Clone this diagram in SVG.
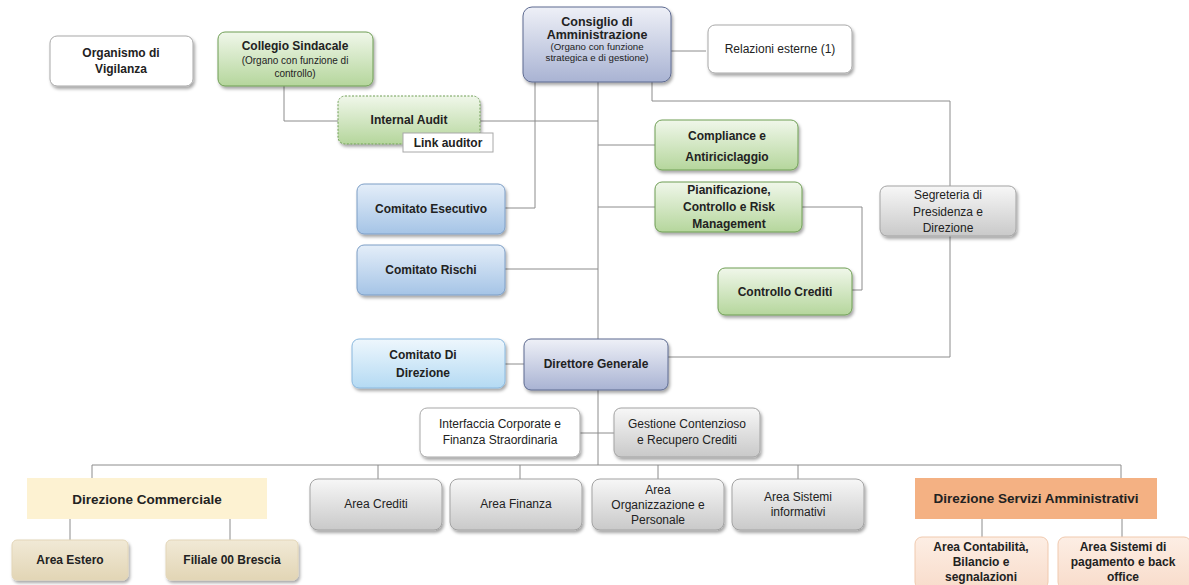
<svg xmlns="http://www.w3.org/2000/svg" width="1189" height="585" viewBox="0 0 1189 585">
<defs>
<filter id="sh" x="-10%" y="-10%" width="125%" height="135%"><feDropShadow dx="1.5" dy="2.5" stdDeviation="1.8" flood-color="#000" flood-opacity="0.35"/></filter>
<linearGradient id="gGreen" x1="0" y1="0" x2="0" y2="1"><stop offset="0" stop-color="#f0f7ea"/><stop offset="1" stop-color="#b5d69c"/></linearGradient>
<linearGradient id="gNavy" x1="0" y1="0" x2="0" y2="1"><stop offset="0" stop-color="#eef0f7"/><stop offset="1" stop-color="#a9b3d3"/></linearGradient>
<linearGradient id="gBlue" x1="0" y1="0" x2="0" y2="1"><stop offset="0" stop-color="#e4eef9"/><stop offset="1" stop-color="#a5c4e6"/></linearGradient>
<linearGradient id="gSky" x1="0" y1="0" x2="0" y2="1"><stop offset="0" stop-color="#eef7fd"/><stop offset="1" stop-color="#b4daf3"/></linearGradient>
<linearGradient id="gGrey" x1="0" y1="0" x2="0" y2="1"><stop offset="0" stop-color="#f7f7f7"/><stop offset="1" stop-color="#c9c9c9"/></linearGradient>
<linearGradient id="gTan" x1="0" y1="0" x2="0" y2="1"><stop offset="0" stop-color="#f1e9d6"/><stop offset="1" stop-color="#e2d5b5"/></linearGradient>
<linearGradient id="gPeach" x1="0" y1="0" x2="0" y2="1"><stop offset="0" stop-color="#fdeee4"/><stop offset="1" stop-color="#f8dccb"/></linearGradient>
</defs>
<style>
text{font-family:"Liberation Sans",Arial,sans-serif;font-size:12px;font-weight:bold;fill:#222;text-anchor:middle}
.r{font-weight:normal}
.n{font-weight:normal;font-size:9.7px}
.big{font-size:13.5px}
.green{fill:url(#gGreen);stroke:#6f9e55;stroke-width:1}
.navy{fill:url(#gNavy);stroke:#5d6a90;stroke-width:1}
.blue{fill:url(#gBlue);stroke:#7d9ec6;stroke-width:1}
.sky{fill:url(#gSky);stroke:#8ab8de;stroke-width:1}
.grey{fill:url(#gGrey);stroke:#a3a3a3;stroke-width:1}
.white{fill:#fff;stroke:#a8a8a8;stroke-width:1}
.tan{fill:url(#gTan);stroke:#e3d6b8;stroke-width:1}
.peach{fill:url(#gPeach);stroke:#f0c9ae;stroke-width:1}
.conn{fill:none;stroke:#8c8c8c;stroke-width:1}
</style>
<rect width="1189" height="585" fill="#fff"/>
<g id="connectors" class="conn">
<path d="M284 86 V121 H338"/>
<path d="M480 121 H598"/>
<path d="M598 82 V339"/>
<path d="M535 82 V208 H505"/>
<path d="M652 82 V101 H950 V357 H668"/>
<path d="M671 51 H706"/>
<path d="M598 145 H655"/>
<path d="M598 207 H655"/>
<path d="M802 207 H862 V290 H852"/>
<path d="M505 269 H598"/>
<path d="M505 364 H524"/>
<path d="M598 390 V465"/>
<path d="M580 433 H614"/>
<path d="M92 465 H1121"/>
<path d="M92 465 V478 M378 465 V479 M520 465 V479 M658 465 V479 M798 465 V479 M1121 465 V478"/>
<path d="M70 519 V540 M230 519 V540"/>
<path d="M982 519 V537 M1122 519 V537"/>
</g>
<g id="organismo"><rect x="50" y="36" width="143" height="50" rx="7" class="white" filter="url(#sh)"/><text x="121" y="57">Organismo di</text><text x="121" y="73">Vigilanza</text></g>
<g id="collegio"><rect x="218" y="32" width="155" height="54" rx="7" class="green" filter="url(#sh)"/><text x="295" y="50">Collegio Sindacale</text><text x="295" y="64" class="n" style="font-size:10px">(Organo con funzione di</text><text x="295" y="77" class="n" style="font-size:10px">controllo)</text></g>
<g id="internal-audit"><rect x="338" y="96" width="142" height="48" rx="7" class="green" stroke-dasharray="2 1.5" filter="url(#sh)"/><text x="409" y="124">Internal Audit</text></g>
<g id="link-auditor"><rect x="403" y="133" width="90" height="19" class="white"/><text x="448" y="147">Link auditor</text></g>
<g id="consiglio"><rect x="523" y="7" width="148" height="75" rx="9" class="navy" filter="url(#sh)"/><text x="597" y="26" style="font-size:12.5px">Consiglio di</text><text x="597" y="39" style="font-size:12.5px">Amministrazione</text><text x="597" y="50" class="n">(Organo con funzione</text><text x="597" y="61" class="n">strategica e di gestione)</text></g>
<g id="relazioni"><rect x="708" y="25" width="144" height="48" rx="7" class="white" filter="url(#sh)"/><text x="780" y="53" class="r">Relazioni esterne (1)</text></g>
<g id="compliance"><rect x="655" y="120" width="143" height="50" rx="7" class="green" filter="url(#sh)"/><text x="727" y="140">Compliance e</text><text x="727" y="161">Antiriciclaggio</text></g>
<g id="pianificazione"><rect x="655" y="182" width="147" height="50" rx="7" class="green" filter="url(#sh)"/><text x="729" y="194">Pianificazione,</text><text x="729" y="211">Controllo e Risk</text><text x="729" y="228">Management</text></g>
<g id="controllo-crediti"><rect x="718" y="268" width="134" height="47" rx="7" class="green" filter="url(#sh)"/><text x="785" y="296">Controllo Crediti</text></g>
<g id="segreteria"><rect x="880" y="186" width="136" height="50" rx="7" class="grey" filter="url(#sh)"/><text x="948" y="199" class="r">Segreteria di</text><text x="948" y="216" class="r">Presidenza e</text><text x="948" y="232" class="r">Direzione</text></g>
<g id="comitato-esecutivo"><rect x="357" y="184" width="148" height="50" rx="7" class="blue" filter="url(#sh)"/><text x="431" y="213">Comitato Esecutivo</text></g>
<g id="comitato-rischi"><rect x="357" y="245" width="148" height="50" rx="7" class="blue" filter="url(#sh)"/><text x="431" y="274">Comitato Rischi</text></g>
<g id="comitato-direzione"><rect x="352" y="339" width="153" height="49" rx="7" class="sky" filter="url(#sh)"/><text x="423" y="359">Comitato Di</text><text x="423" y="377">Direzione</text></g>
<g id="direttore"><rect x="524" y="339" width="144" height="51" rx="7" class="navy" filter="url(#sh)"/><text x="596" y="368">Direttore Generale</text></g>
<g id="interfaccia"><rect x="420" y="408" width="160" height="49" rx="7" class="white" filter="url(#sh)"/><text x="500" y="428" class="r">Interfaccia Corporate e</text><text x="500" y="444" class="r">Finanza Straordinaria</text></g>
<g id="gestione"><rect x="614" y="408" width="146" height="49" rx="7" class="grey" filter="url(#sh)"/><text x="687" y="428" class="r">Gestione Contenzioso</text><text x="687" y="444" class="r">e Recupero Crediti</text></g>
<g id="direzione-commerciale"><rect x="27" y="478" width="240" height="41" fill="#fdf2d2"/><text x="147" y="504" class="big">Direzione Commerciale</text></g>
<g id="area-estero"><rect x="12" y="540" width="116" height="40" rx="5" class="tan" filter="url(#sh)"/><text x="70" y="564">Area  Estero</text></g>
<g id="filiale"><rect x="166" y="540" width="132" height="40" rx="5" class="tan" filter="url(#sh)"/><text x="232" y="564">Filiale 00 Brescia</text></g>
<g id="area-crediti"><rect x="310" y="479" width="132" height="51" rx="8" class="grey" filter="url(#sh)"/><text x="376" y="508" class="r">Area Crediti</text></g>
<g id="area-finanza"><rect x="450" y="479" width="132" height="51" rx="8" class="grey" filter="url(#sh)"/><text x="516" y="508" class="r">Area Finanza</text></g>
<g id="area-organizzazione"><rect x="592" y="479" width="132" height="51" rx="8" class="grey" filter="url(#sh)"/><text x="658" y="494" class="r">Area</text><text x="658" y="509" class="r">Organizzazione e</text><text x="658" y="524" class="r">Personale</text></g>
<g id="area-sistemi"><rect x="732" y="479" width="132" height="51" rx="8" class="grey" filter="url(#sh)"/><text x="798" y="501" class="r">Area Sistemi</text><text x="798" y="516" class="r">informativi</text></g>
<g id="direzione-servizi"><rect x="915" y="478" width="242" height="41" fill="#f4b183"/><text x="1036" y="503" class="big">Direzione Servizi Amministrativi</text></g>
<g id="area-contabilita"><rect x="915" y="537" width="133" height="52" rx="7" class="peach"/><text x="981" y="551">Area Contabilità,</text><text x="981" y="566">Bilancio e</text><text x="981" y="581">segnalazioni</text></g>
<g id="area-pagamento"><rect x="1058" y="537" width="133" height="52" rx="7" class="peach"/><text x="1123" y="551">Area Sistemi di</text><text x="1123" y="566">pagamento e back</text><text x="1123" y="581">office</text></g>
</svg>
